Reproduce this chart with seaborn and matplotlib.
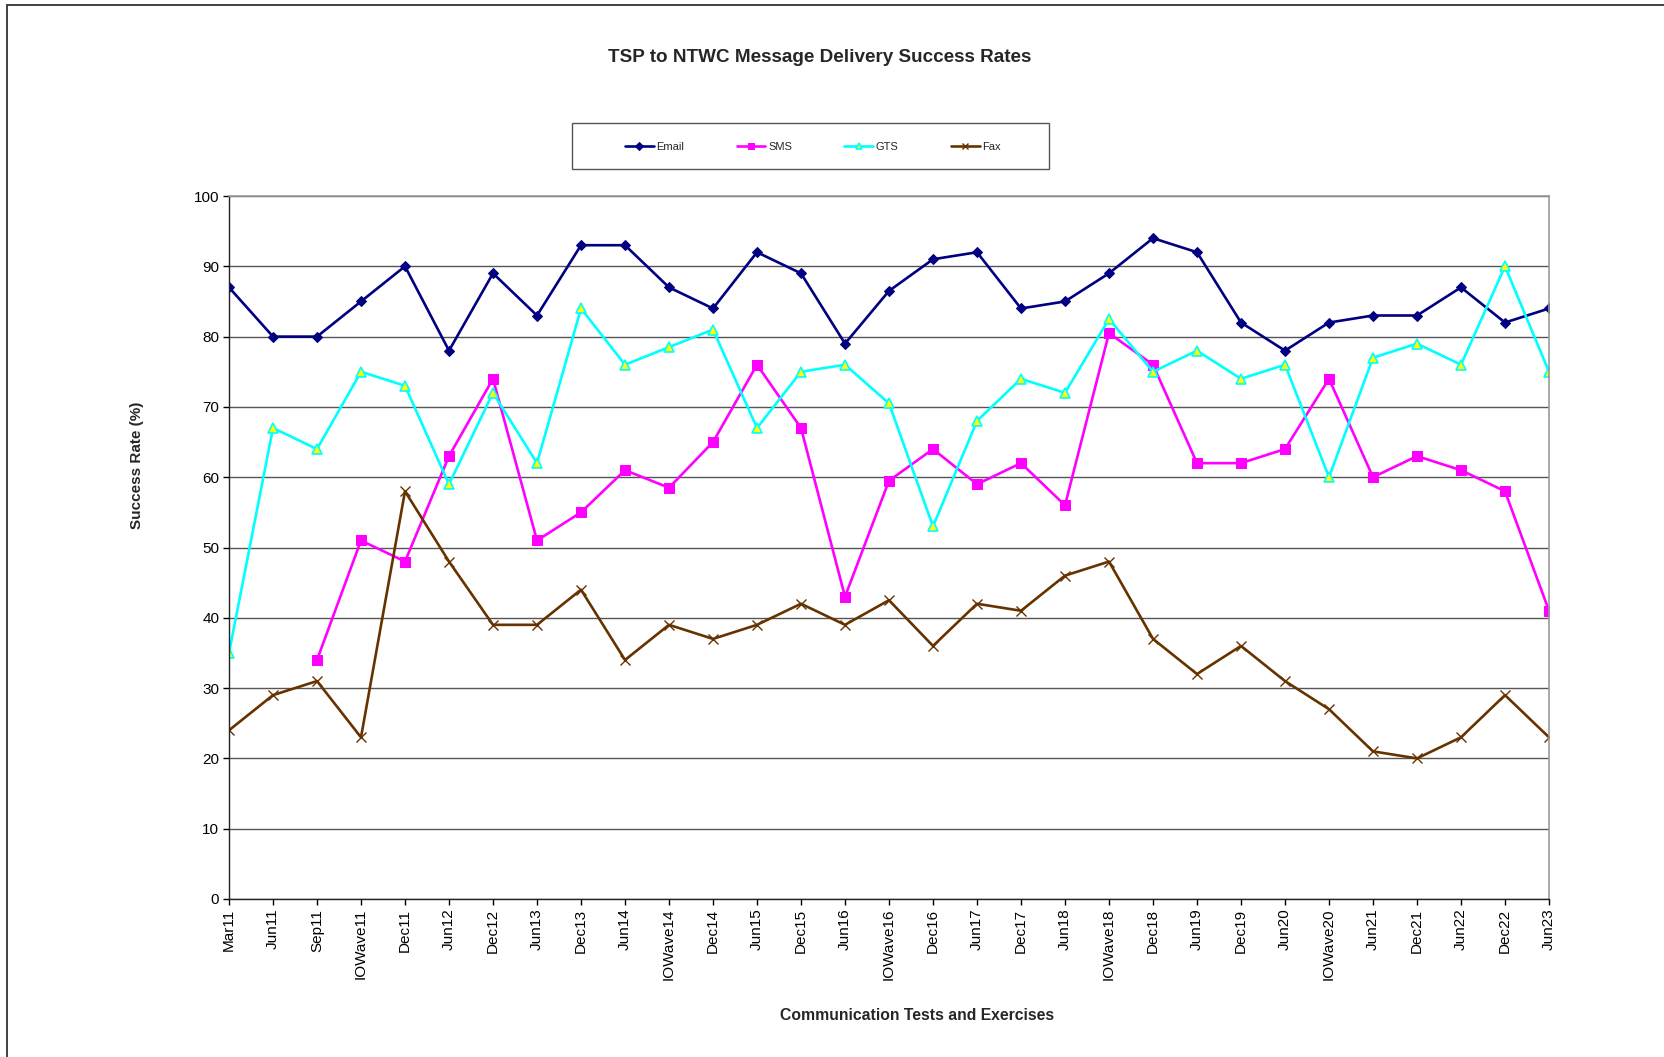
import numpy as np
import pandas as pd
import matplotlib
matplotlib.use("Agg")
import matplotlib.pyplot as plt
from matplotlib.patches import Rectangle
import seaborn as sns

categories = ["Mar11", "Jun11", "Sep11", "IOWave11", "Dec11", "Jun12", "Dec12", "Jun13",
              "Dec13", "Jun14", "IOWave14", "Dec14", "Jun15", "Dec15", "Jun16", "IOWave16",
              "Dec16", "Jun17", "Dec17", "Jun18", "IOWave18", "Dec18", "Jun19", "Dec19",
              "Jun20", "IOWave20", "Jun21", "Dec21", "Jun22", "Dec22", "Jun23"]
email = [87, 80, 80, 85, 90, 78, 89, 83, 93, 93, 87, 84, 92, 89, 79, 86.5, 91, 92, 84, 85,
         89, 94, 92, 82, 78, 82, 83, 83, 87, 82, 84]
sms = [np.nan, np.nan, 34, 51, 48, 63, 74, 51, 55, 61, 58.5, 65, 76, 67, 43, 59.5, 64, 59, 62, 56,
       80.5, 76, 62, 62, 64, 74, 60, 63, 61, 58, 41]
gts = [35, 67, 64, 75, 73, 59, 72, 62, 84, 76, 78.5, 81, 67, 75, 76, 70.5, 53, 68, 74, 72,
       82.5, 75, 78, 74, 76, 60, 77, 79, 76, 90, 75]
fax = [24, 29, 31, 23, 58, 48, 39, 39, 44, 34, 39, 37, 39, 42, 39, 42.5, 36, 42, 41, 46,
       48, 37, 32, 36, 31, 27, 21, 20, 23, 29, 23]
y_ticks = [0, 10, 20, 30, 40, 50, 60, 70, 80, 90, 100]

sns.set_theme(style="white")
plt.rcParams['font.family'] = ['Liberation Sans', 'DejaVu Sans']

W, H = 1665, 1057
fig = plt.figure(figsize=(W / 100, H / 100), dpi=100)
ax = fig.add_axes([229 / W, 1 - 899 / H, (1549 - 229) / W, (899 - 196) / H])

idx = np.arange(len(categories))
series = [
    ("Email", email, dict(color="#000080", marker="D", markersize=5.5, markerfacecolor="#000080",
                          markeredgecolor="#000080")),
    ("SMS", sms, dict(color="#FF00FF", marker="s", markersize=7, markerfacecolor="#FF00FF",
                      markeredgecolor="#FF00FF")),
    ("GTS", gts, dict(color="#00FFFF", marker="^", markersize=6.5, markerfacecolor="#FFFF00",
                      markeredgecolor="#00FFFF", markeredgewidth=1.2)),
    ("Fax", fax, dict(color="#663300", marker="x", markersize=6.5, markeredgecolor="#663300",
                      markeredgewidth=1.0)),
]
for name, vals, kw in series:
    df = pd.DataFrame({"x": idx, "y": vals}).dropna()
    sns.lineplot(data=df, x="x", y="y", ax=ax, label=name, linewidth=1.9, **kw)

ax.set_xlim(0, len(categories) - 1)
ax.set_ylim(0, 100)
ax.set_yticks(y_ticks)
ax.set_yticklabels([str(t) for t in y_ticks], fontsize=11)
ax.set_xticks(idx)
ax.set_xticklabels(categories, rotation=90, fontsize=11)
ax.set_xlabel("")
ax.set_ylabel("")
ax.yaxis.grid(True, color="#555555", linewidth=1.0)
ax.xaxis.grid(False)
ax.set_axisbelow(True)
ax.tick_params(axis="both", which="major", direction="out", length=4, width=1,
               color="#000000", pad=3, labelcolor="#000000")
ax.tick_params(axis="x", bottom=True)
ax.tick_params(axis="y", left=True)
for s in ["left", "bottom"]:
    ax.spines[s].set_color("#222222")
    ax.spines[s].set_linewidth(1.0)
for s in ["top", "right"]:
    ax.spines[s].set_color("#999999")
    ax.spines[s].set_linewidth(1.2)

ax.get_legend().remove()
handles, labels = ax.get_legend_handles_labels()

# legend box
fig.patches.append(Rectangle((572 / W, 1 - 169 / H), (1049 - 572) / W, (169 - 123) / H,
                             transform=fig.transFigure, fill=False, edgecolor="#555555",
                             linewidth=1.0))
fig.legend(handles, labels, loc="center", bbox_to_anchor=(813 / W, 1 - 147 / H),
           ncol=4, frameon=False, fontsize=8, handlelength=2.6, handletextpad=0.25,
           columnspacing=4.7, markerscale=0.7)

# figure frame (cut off at right and bottom)
fig.patches.append(Rectangle((7.5 / W, -0.1), 1.2, 1 - 4.5 / H + 0.1,
                             transform=fig.transFigure, fill=False, edgecolor="#333333",
                             linewidth=1.3))

fig.text(820 / W, 1 - 57 / H, "TSP to NTWC Message Delivery Success Rates",
         ha="center", va="center", fontsize=13.6, fontweight="bold")
fig.text(137 / W, 1 - 465 / H, "Success Rate (%)", ha="center", va="center",
         rotation=90, fontsize=11, fontweight="bold")
fig.text(917 / W, 1 - 1016 / H, "Communication Tests and Exercises", ha="center",
         va="center", fontsize=11.3, fontweight="bold")

fig.savefig("out.png", dpi=100)
